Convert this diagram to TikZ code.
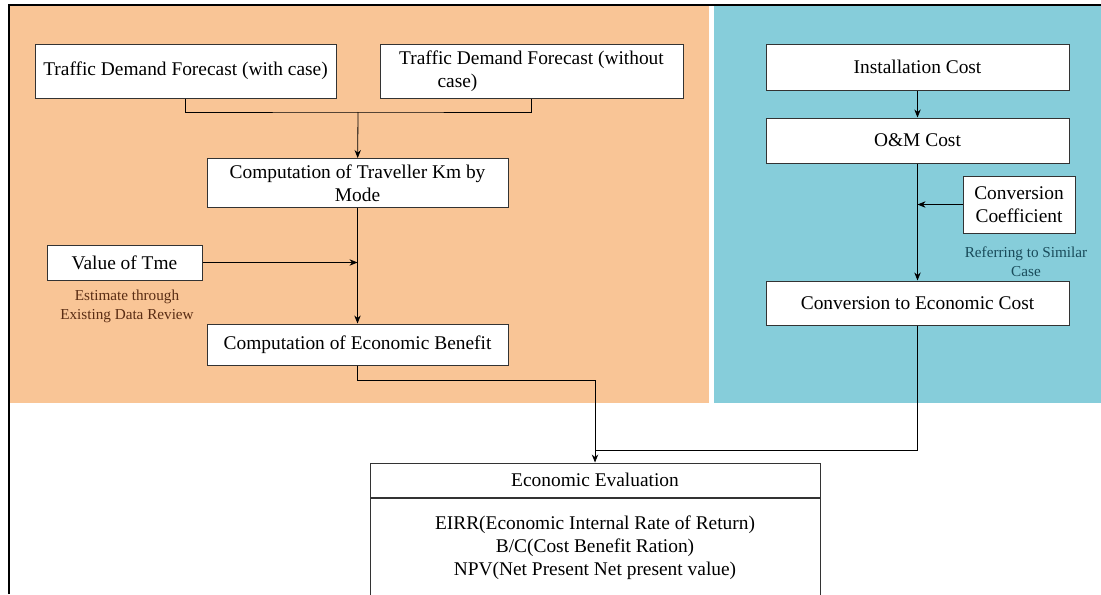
\documentclass[tikz,border=0pt]{standalone}
\usepackage{fontspec}
\setmainfont{Liberation Serif}
\newfontfamily\boxfont{Liberation Serif}
\usetikzlibrary{arrows.meta}
\definecolor{peach}{RGB}{249,197,150}
\definecolor{aqua}{RGB}{134,205,218}
\definecolor{notebrown}{RGB}{90,45,20}
\definecolor{noteteal}{RGB}{25,75,90}

\begin{document}
\begin{tikzpicture}[x=0.5pt,y=-0.5pt,
  main/.style={draw=black!80, fill=white, line width=0.5pt, align=center, inner sep=1pt, font=\boxfont\fontsize{9.7}{11.4}\selectfont},
  note/.style={align=center, inner sep=0pt, font=\boxfont\fontsize{7.6}{9.5}\selectfont},
  >={Stealth[length=4pt,width=3.2pt]}]
  \useasboundingbox (0,0) rectangle (1101,594);
  \clip (0,0) rectangle (1101,594);
  % benefit side and cost side
  \fill[peach] (10,6) rectangle (709,403);
  \fill[aqua] (714,6) rectangle (1101,403);
  \draw[line width=1.2pt] (9,594) -- (9,5) -- (1101,5);

  \node[main, minimum width=150.5pt, minimum height=27pt] (wc) at (185.5,71) {Traffic Demand Forecast (with case)};
  \node[main, minimum width=151.5pt, minimum height=27pt] (woc) at (531.5,71) {Traffic Demand Forecast (without\\\hspace*{-74pt}case)};
  \node[main, minimum width=150.5pt, minimum height=24.5pt] (km) at (357.5,183) {Computation of Traveller Km by\\Mode};
  \node[main, minimum width=77.5pt, minimum height=17.5pt] (vot) at (124.5,262.5) {Value of Tme};
  \node[note, text=notebrown] (votnote) at (127,306) {Estimate through\\Existing Data Review};
  \node[main, minimum width=150.5pt, minimum height=20.5pt] (ben) at (357.5,344.5) {Computation of Economic Benefit};

  \node[main, minimum width=151.5pt, minimum height=23pt] (inst) at (917.5,67) {Installation Cost};
  \node[main, minimum width=151.5pt, minimum height=22.5pt] (om) at (917.5,140.5) {O\&M Cost};
  \node[main, minimum width=56pt, minimum height=28.5pt] (coef) at (1019,204.5) {Conversion\\Coefficient};
  \node[note, text=noteteal] (coefnote) at (1026,262) {Referring to Similar\\Case};
  \node[main, minimum width=151.5pt, minimum height=22pt] (ecc) at (917.5,303) {Conversion to Economic Cost};

  \node[main, minimum width=225pt, minimum height=17pt] (eval) at (595,480) {Economic Evaluation};
  \node[main, minimum width=225pt, minimum height=50pt, anchor=north] (evalres) at (eval.south) {EIRR(Economic Internal Rate of Return)\\B/C(Cost Benefit Ration)\\NPV(Net Present Net present value)};

  % connectors
  \coordinate (m) at (358,112);
  \coordinate (k) at (595,380);
  \coordinate (j) at (595,450);
  \draw (wc) |- (m) -| (woc);
  \draw[->] (m) -- (km);
  \draw[->] (km) -- (ben);
  \draw[->] (vot) -- (vot -| km);
  \draw[->] (inst) -- (om);
  \draw[->] (om) -- (ecc);
  \draw[->] (coef) -- (coef -| om);
  \draw[->] (ben) |- (k) -- (eval);
  \draw (ecc) |- (j);
\end{tikzpicture}
\end{document}
